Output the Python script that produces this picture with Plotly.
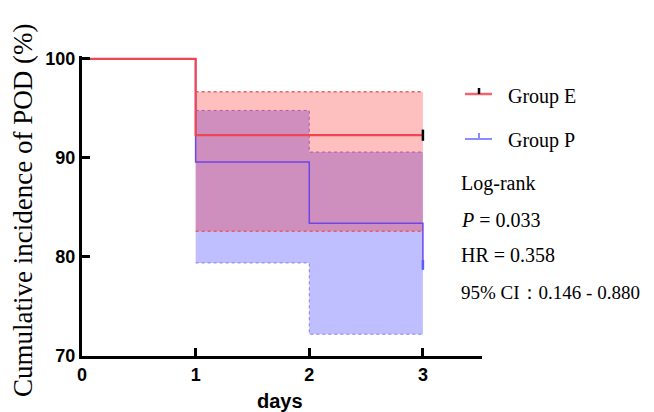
import plotly.graph_objects as go

# Data
days_e = [0, 1, 3]
cum_e = [100, 92.3, 92.3]
days_p = [0, 1, 2, 3, 3]
cum_p = [100, 89.6, 83.4, 83.4, 79.2]

ci_days_e = [1, 3]
ci_up_e = [96.7, 96.7]
ci_lo_e = [82.6, 82.6]
ci_days_p = [1, 2, 3]
ci_up_p = [94.8, 90.6, 90.6]
ci_lo_p = [79.4, 72.2, 72.2]

x_ticks = [0, 1, 2, 3]
y_ticks = [70, 80, 90, 100]

RED_FILL = "rgba(250,0,0,0.25)"
BLUE_FILL = "rgba(0,0,255,0.25)"
RED_LINE = "rgb(238,70,85)"
BLUE_LINE = "rgb(110,70,230)"

fig = go.Figure()

# P confidence band
fig.add_trace(go.Scatter(x=ci_days_p, y=ci_lo_p, mode="lines", line=dict(shape="hv", color="rgba(120,100,240,0.8)", width=1, dash="dot"), showlegend=False, hoverinfo="skip"))
fig.add_trace(go.Scatter(x=ci_days_p, y=ci_up_p, mode="lines", fill="tonexty", fillcolor=BLUE_FILL, line=dict(shape="hv", color="rgba(150,90,200,0.8)", width=1, dash="dot"), showlegend=False, hoverinfo="skip"))
# E confidence band
fig.add_trace(go.Scatter(x=ci_days_e, y=ci_lo_e, mode="lines", line=dict(shape="hv", color="rgba(240,80,90,0.9)", width=1.5, dash="dot"), showlegend=False, hoverinfo="skip"))
fig.add_trace(go.Scatter(x=ci_days_e, y=ci_up_e, mode="lines", fill="tonexty", fillcolor=RED_FILL, line=dict(shape="hv", color="rgba(240,80,90,0.9)", width=1.5, dash="dot"), showlegend=False, hoverinfo="skip"))

# Curves
fig.add_trace(go.Scatter(x=days_p, y=cum_p, mode="lines", line=dict(shape="hv", color=BLUE_LINE, width=1.5), showlegend=False))
fig.add_trace(go.Scatter(x=days_e, y=cum_e, mode="lines", line=dict(shape="hv", color=RED_LINE, width=2.2), showlegend=False))

# Censor marks
fig.add_trace(go.Scatter(x=[days_e[-1]], y=[cum_e[-1]], mode="markers", marker=dict(symbol="line-ns", size=8, line=dict(color="black", width=2.5)), showlegend=False))
fig.add_trace(go.Scatter(x=[days_p[-1]], y=[cum_p[-1]], mode="markers", marker=dict(symbol="line-ns", size=7, line=dict(color="rgb(90,90,255)", width=2.5)), showlegend=False))

serif = "Liberation Serif, Times New Roman, serif"
sans = "Liberation Sans, Arial, sans-serif"

fig.update_layout(
    width=654, height=412,
    margin=dict(l=74, r=180, t=48, b=64),
    plot_bgcolor="white", paper_bgcolor="white",
    xaxis=dict(range=[0, 3.52], tickvals=x_ticks, showgrid=False, zeroline=False, automargin=False,
               showline=True, linecolor="black", linewidth=3, ticks="inside", ticklen=8, tickwidth=3, tickcolor="black",
               tickfont=dict(family=sans, size=18, color="black", weight="bold")),
    yaxis=dict(range=[70, 100.3], tickvals=y_ticks, showgrid=False, zeroline=False, automargin=False,
               showline=True, linecolor="black", linewidth=3, ticks="inside", ticklen=8, tickwidth=3, tickcolor="black",
               tickfont=dict(family=sans, size=18, color="black", weight="bold")),
    showlegend=False,
)

# page has an 8px body margin; map reference pixels to paper coordinates
def px_x(px):
    return (px - 82) / 400

def px_y(py):
    return (356 - py) / 300

# Legend drawn manually
fig.add_shape(type="line", xref="paper", yref="paper", x0=px_x(465), x1=px_x(492), y0=px_y(94), y1=px_y(94), line=dict(color="rgb(245,100,110)", width=2.5))
fig.add_shape(type="line", xref="paper", yref="paper", x0=px_x(479), x1=px_x(479), y0=px_y(88), y1=px_y(94), line=dict(color="black", width=2.5))
fig.add_shape(type="line", xref="paper", yref="paper", x0=px_x(465), x1=px_x(492), y0=px_y(139), y1=px_y(139), line=dict(color="rgb(140,140,255)", width=2))
fig.add_shape(type="line", xref="paper", yref="paper", x0=px_x(479), x1=px_x(479), y0=px_y(133), y1=px_y(139), line=dict(color="rgb(140,140,255)", width=2))

texts = [
    ("Group E", 506, 96, 20),
    ("Group P", 506, 140, 20),
    ("Log-rank", 459, 183, 20),
    ("<i>P</i> = 0.033", 459, 220, 20),
    ("HR = 0.358", 459, 255, 20),
    ("95% CI：0.146 - 0.880", 459, 292, 19),
]
for t, x, y, s in texts:
    fig.add_annotation(text=t, xref="paper", yref="paper", x=px_x(x), y=px_y(y), xanchor="left", yanchor="middle",
                       showarrow=False, font=dict(family=serif, size=s, color="black"))

fig.add_annotation(text="Cumulative incidence of POD (%)", xref="paper", yref="paper", x=px_x(23), y=px_y(211),
                   textangle=-90, showarrow=False, xanchor="center", yanchor="middle",
                   font=dict(family=serif, size=27, color="black"))
fig.add_annotation(text="<b>days</b>", xref="paper", yref="paper", x=px_x(280), y=px_y(401),
                   showarrow=False, xanchor="center", yanchor="middle",
                   font=dict(family=sans, size=20, color="black"))

fig.write_html("out.html")
